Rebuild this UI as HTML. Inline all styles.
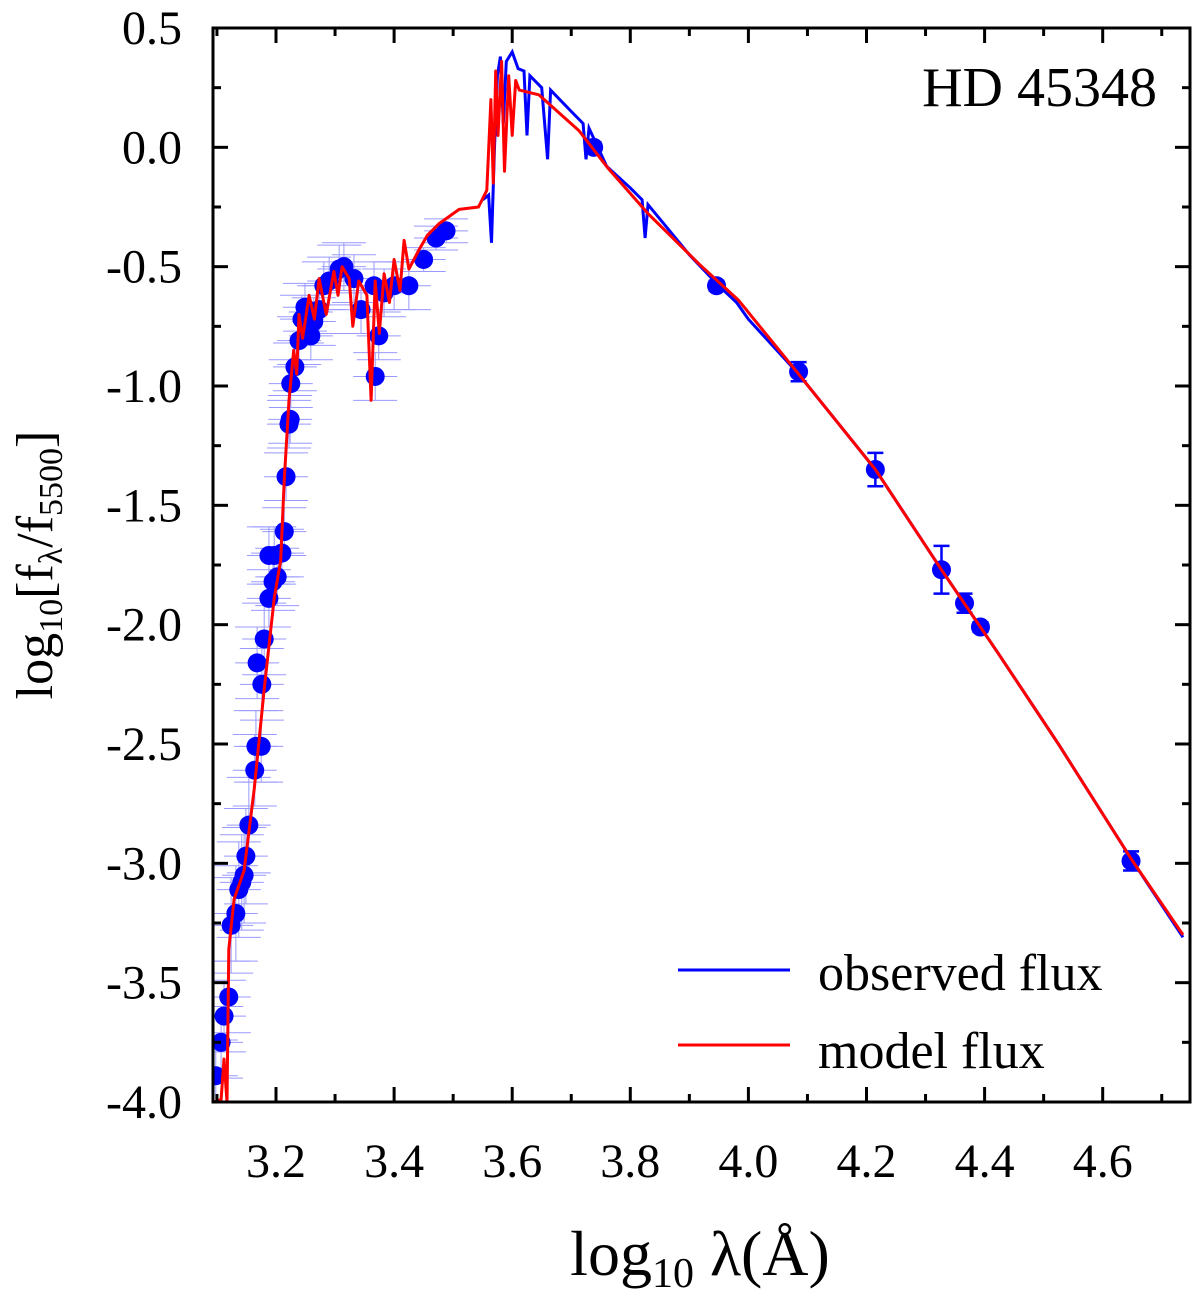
<!DOCTYPE html>
<html><head><meta charset="utf-8"><style>
html,body{margin:0;padding:0;background:#fff;}
svg{display:block;font-family:"Liberation Serif",serif;}
</style></head><body>
<svg id="chart" width="1200" height="1299" viewBox="0 0 1200 1299" xmlns="http://www.w3.org/2000/svg">
<text x="1157" y="106" font-size="56" text-anchor="end">HD 45348</text>
<text x="700" y="1275" font-size="64" text-anchor="middle">log<tspan font-size="42" dy="12">10</tspan><tspan dy="-12"> λ(Å)</tspan></text>
<text transform="translate(52,565) rotate(-90)" font-size="52" text-anchor="middle">log<tspan font-size="34" dy="10">10</tspan><tspan dy="-10">[f</tspan><tspan font-size="34" dy="10">λ</tspan><tspan dy="-10">/f</tspan><tspan font-size="34" dy="10">5500</tspan><tspan dy="-10">]</tspan></text>
<g>
<line x1="678" y1="970" x2="790" y2="970" stroke="#0000ff" stroke-width="3"/>
<text x="818" y="990" font-size="52">observed flux</text>
<line x1="678" y1="1045" x2="790" y2="1045" stroke="#ff0000" stroke-width="3"/>
<text x="818" y="1068" font-size="52">model flux</text>
</g>
</svg>
<script>
const xTicks=[3.2,3.4,3.6,3.8,4.0,4.2,4.4,4.6];
const yTicks=[0.5,0.0,-0.5,-1.0,-1.5,-2.0,-2.5,-3.0,-3.5,-4.0];
const modelX=[3.095,3.107,3.112,3.117,3.120,3.129,3.146,3.163,3.180,3.197,3.208,3.214,3.222,3.230,3.235,3.239,3.245,3.256,3.265,3.273,3.285,3.298,3.305,3.312,3.324,3.330,3.340,3.354,3.361,3.368,3.375,3.383,3.392,3.400,3.410,3.417,3.425,3.442,3.456,3.476,3.510,3.543,3.557,3.564,3.568,3.572,3.576,3.582,3.587,3.594,3.600,3.606,3.612,3.645,3.713,3.763,3.831,3.917,3.983,4.085,4.215,4.327,4.423,4.525,4.648,4.736];
const modelY=[-4.0,-3.99,-3.82,-4.0,-3.36,-3.15,-3.03,-2.69,-2.27,-1.89,-1.73,-1.39,-1.06,-0.85,-0.95,-0.70,-0.80,-0.62,-0.72,-0.55,-0.70,-0.52,-0.62,-0.50,-0.55,-0.75,-0.56,-0.62,-1.06,-0.56,-0.78,-0.53,-0.65,-0.47,-0.60,-0.39,-0.51,-0.43,-0.37,-0.32,-0.26,-0.25,-0.18,0.20,-0.15,0.32,0.05,0.36,-0.10,0.30,0.05,0.28,0.24,0.22,0.07,-0.09,-0.28,-0.49,-0.64,-0.95,-1.35,-1.77,-2.12,-2.50,-2.98,-3.30];
const obsX=[3.55,3.56,3.565,3.57,3.575,3.58,3.585,3.59,3.60,3.61,3.62,3.625,3.63,3.65,3.66,3.665,3.70,3.72,3.725,3.73,3.76,3.80,3.82,3.825,3.83,3.90,3.95,3.98,4.0,4.085,4.215,4.327,4.423,4.525,4.648,4.736];
const obsY=[-0.22,-0.20,-0.40,0.0,0.30,0.38,0.10,0.36,0.40,0.33,0.32,0.05,0.30,0.25,-0.05,0.24,0.15,0.10,-0.05,0.08,-0.08,-0.17,-0.22,-0.38,-0.24,-0.45,-0.58,-0.65,-0.72,-0.95,-1.35,-1.77,-2.12,-2.50,-2.98,-3.31];
const ptX=[3.098,3.107,3.112,3.120,3.124,3.132,3.137,3.142,3.149,3.146,3.154,3.164,3.166,3.168,3.175,3.176,3.180,3.188,3.195,3.188,3.197,3.202,3.210,3.214,3.217,3.222,3.224,3.225,3.232,3.239,3.244,3.249,3.259,3.264,3.273,3.281,3.290,3.307,3.315,3.332,3.344,3.366,3.368,3.374,3.383,3.400,3.425,3.450,3.471,3.488,3.738,3.946,4.085,4.215,4.327,4.366,4.393,4.648];
const ptY=[-3.89,-3.75,-3.64,-3.56,-3.26,-3.21,-3.11,-3.08,-2.97,-3.05,-2.84,-2.61,-2.51,-2.16,-2.51,-2.25,-2.06,-1.89,-1.82,-1.71,-1.71,-1.80,-1.70,-1.61,-1.38,-1.16,-1.14,-0.99,-0.92,-0.81,-0.72,-0.67,-0.79,-0.73,-0.68,-0.58,-0.56,-0.51,-0.50,-0.55,-0.68,-0.58,-0.96,-0.79,-0.61,-0.58,-0.58,-0.47,-0.38,-0.35,0.0,-0.58,-0.94,-1.35,-1.77,-1.91,-2.01,-2.99];
const ptErr=[0.15,0.15,0.15,0.15,0.2,0.2,0.2,0.2,0.2,0.2,0.2,0.15,0.15,0.15,0.15,0.15,0.15,0.12,0.12,0.12,0.12,0.12,0.1,0.1,0.1,0.1,0.1,0.1,0.1,0.1,0.1,0.1,0.1,0.1,0.1,0.1,0.1,0.1,0.1,0.1,0.1,0.1,0.1,0.1,0.1,0.1,0.1,0.05,0.05,0.05,0.02,0.02,0.04,0.07,0.1,0.04,0.02,0.04];
const X0=213,X1=1190,Y0=28,Y1=1102;
function sx(v){return 276+(v-3.2)*590.5;}
function sy(v){return Y0+(0.5-v)*(Y1-Y0)/4.5;}
const NS='http://www.w3.org/2000/svg';
const svg=document.getElementById('chart');
function mk(t,a,p){const e=document.createElementNS(NS,t);for(const k in a)e.setAttribute(k,a[k]);(p||svg).appendChild(e);return e;}
const clip=mk('clipPath',{id:'pc'});mk('rect',{x:X0,y:Y0,width:X1-X0,height:Y1-Y0},clip);
const plot=mk('g',{'clip-path':'url(#pc)'});


const eg=mk('g',{},plot);


ptX.forEach((x,i)=>{
  const ir=x>3.7;
  const col=ir?'#0000ff':'#9999ff';const w=ir?2.5:1;
  const cx=sx(x),y1=sy(ptY[i]+ptErr[i]),y2=sy(ptY[i]-ptErr[i]);
  mk('line',{x1:cx,x2:cx,y1:y1,y2:y2,stroke:col,'stroke-width':w},eg);
  const hw=ir?8:22;
  mk('line',{x1:cx-hw,x2:cx+hw,y1:y1,y2:y1,stroke:col,'stroke-width':w},eg);
  mk('line',{x1:cx-hw,x2:cx+hw,y1:y2,y2:y2,stroke:col,'stroke-width':w},eg);
  if(!ir){mk('line',{x1:cx-hw,x2:cx+hw,y1:sy(ptY[i]),y2:sy(ptY[i]),stroke:col,'stroke-width':w},eg);}
});
function path(xs,ys){return xs.map((x,i)=>(i?'L':'M')+sx(x).toFixed(1)+','+sy(ys[i]).toFixed(1)).join('');}
const obs=mk('path',{d:path(obsX,obsY),fill:'none',stroke:'#0000ff','stroke-width':3},plot);


ptX.forEach((x,i)=>{
  const c=mk('circle',{cx:sx(x),cy:sy(ptY[i]),r:9.5,fill:'#0000ff'},plot);
  
  
});
const mod=mk('path',{d:path(modelX,modelY),fill:'none',stroke:'#ff0000','stroke-width':3,'stroke-linejoin':'round'},plot);


const fr=mk('rect',{x:X0,y:Y0,width:X1-X0,height:Y1-Y0,fill:'none',stroke:'#000','stroke-width':3});


const tg=mk('g',{stroke:'#000','stroke-width':3});


for(let k=31;k<=47;k++){const v=k/10;const x=sx(v);if(x<X0+2||x>X1-2)continue;const L=(k%2===0)?15:8;
  mk('line',{x1:x,x2:x,y1:Y1,y2:Y1-L},tg);mk('line',{x1:x,x2:x,y1:Y0,y2:Y0+L},tg);}
for(let k=0;k<=18;k++){const v=0.5-k*0.25;const y=sy(v);const L=(k%2===0)?15:8;
  mk('line',{x1:X0,x2:X0+L,y1:y,y2:y},tg);mk('line',{x1:X1,x2:X1-L,y1:y,y2:y},tg);}
xTicks.forEach(v=>{const t=mk('text',{x:sx(v),y:1177,'font-size':48,'text-anchor':'middle'});t.textContent=v.toFixed(1);
  
  });
yTicks.forEach(v=>{const t=mk('text',{x:182,y:sy(v)+16,'font-size':48,'text-anchor':'end'});t.textContent=(v===0?'0.0':v.toFixed(1));
  
  });
</script>
</body></html>
